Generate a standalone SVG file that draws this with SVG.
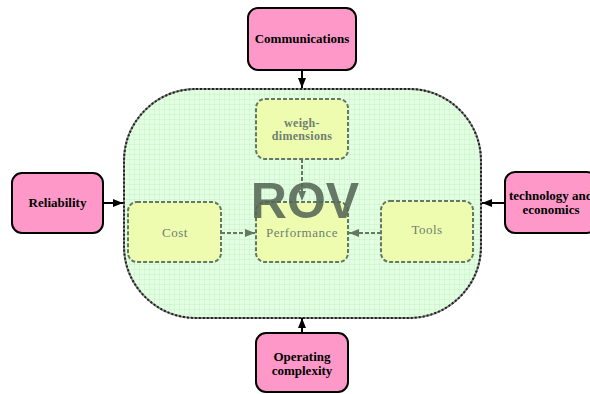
<svg xmlns="http://www.w3.org/2000/svg" width="590" height="394" viewBox="0 0 590 394">
<style>
.outer rect{fill:#fe98c8;stroke:#000;stroke-width:2}
.outer text{font-family:"Liberation Serif",serif;font-weight:bold;font-size:13px;fill:#000;text-anchor:middle}
.inner rect{fill:#eefcb0;stroke:#667766;stroke-width:2;stroke-dasharray:4 2}
.inner text{font-family:"Liberation Serif",serif;font-size:13px;fill:#6f7f6f;text-anchor:middle;letter-spacing:0.5px}
.inner text.b{font-weight:bold;font-size:12px;letter-spacing:0.3px}
.conn{stroke:#000;stroke-width:2;fill:none}
.iconn{stroke:#667766;stroke-width:2;fill:none;stroke-dasharray:4 2}
</style>
<defs>
<pattern id="grid" width="5" height="5" patternUnits="userSpaceOnUse">
<rect width="5" height="5" fill="#e2ffe2"/>
<path d="M5 0V5M0 5H5" stroke="#c6efc6" stroke-width="1"/>
</pattern>
<marker id="ah" markerWidth="10" markerHeight="8" refX="10" refY="4" orient="auto" markerUnits="userSpaceOnUse">
<path d="M0 0L10 4L0 8z" fill="#000"/>
</marker>
<marker id="ahg" markerWidth="10" markerHeight="8" refX="10" refY="4" orient="auto" markerUnits="userSpaceOnUse">
<path d="M0 0L10 4L0 8z" fill="#667766"/>
</marker>
</defs>
<g id="ROV">
<rect x="124" y="89" width="357" height="229" rx="72" ry="72" fill="url(#grid)" stroke="#888" stroke-width="2"/>
<rect x="124" y="89" width="357" height="229" rx="72" ry="72" fill="none" stroke="#222" stroke-width="2" stroke-dasharray="2 2"/>
</g>
<g id="connectors">
<path class="conn" d="M302 70V88" marker-end="url(#ah)"/>
<path class="conn" d="M103 203H123" marker-end="url(#ah)"/>
<path class="conn" d="M505 203H482" marker-end="url(#ah)"/>
<path class="conn" d="M302 333V318" marker-end="url(#ah)"/>
<path class="iconn" d="M302 159V201" marker-end="url(#ahg)"/>
<path class="iconn" d="M221 233H255" marker-end="url(#ahg)"/>
<path class="iconn" d="M381 233H349" marker-end="url(#ahg)"/>
</g>
<g id="weigh" class="inner">
<rect x="256" y="99" width="92" height="60" rx="9"/>
<text class="b" x="302" y="127">weigh-</text>
<text class="b" x="302" y="140">dimensions</text>
</g>
<g id="cost" class="inner">
<rect x="128" y="202" width="93" height="60" rx="9"/>
<text x="175" y="237">Cost</text>
</g>
<g id="performance" class="inner">
<rect x="256" y="202" width="92" height="60" rx="9"/>
<text x="302" y="237">Performance</text>
</g>
<g id="tools" class="inner">
<rect x="381" y="201" width="92" height="61" rx="9"/>
<text x="427" y="234">Tools</text>
</g>
<g id="rovlabel">
<text x="305" y="218" font-family="Liberation Sans,Arial,sans-serif" font-weight="bold" font-size="50" fill="#556655" fill-opacity="0.88" text-anchor="middle">ROV</text>
</g>
<g id="communications" class="outer">
<rect x="248" y="8" width="108" height="62" rx="10"/>
<text x="302" y="43">Communications</text>
</g>
<g id="reliability" class="outer">
<rect x="12" y="173" width="91" height="60" rx="10"/>
<text x="57.5" y="207">Reliability</text>
</g>
<g id="technology" class="outer">
<rect x="505" y="172" width="92" height="61" rx="10"/>
<text x="551" y="200">technology and</text>
<text x="551" y="214">economics</text>
</g>
<g id="operating" class="outer">
<rect x="256" y="333" width="92" height="59" rx="10"/>
<text x="302" y="361">Operating</text>
<text x="302" y="375">complexity</text>
</g>
</svg>
